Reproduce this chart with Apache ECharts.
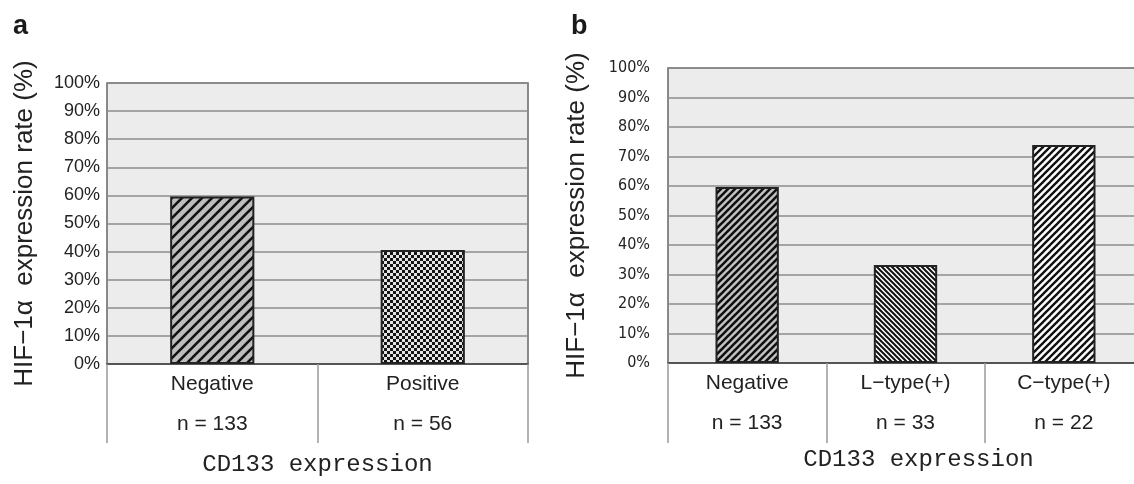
<!DOCTYPE html>
<html><head><meta charset="utf-8">
<script src="https://cdn.jsdelivr.net/npm/echarts@6/dist/echarts.min.js"></script>
<style>html,body{margin:0;padding:0;background:#fff;}#c{width:1134px;height:484px;}</style>
</head><body><div id="c"></div>
<script>
// ---- data ----
const categoriesA = ['Negative', 'Positive'];
const countsA = [133, 56];
const valuesA = [59.6, 40.6];
const categoriesB = ['Negative', 'L−type(+)', 'C−type(+)'];
const countsB = [133, 33, 22];
const valuesB = [59.7, 33.2, 73.9];
const yTickValues = [0, 10, 20, 30, 40, 50, 60, 70, 80, 90, 100];
const yTitle = 'HIF−1α  expression rate (%)';
const xTitle = 'CD133 expression';
const panelLabels = ['a', 'b'];

// ---- patterns ----
function hatch(p, w, bg, dir) {
  const c = document.createElement('canvas');
  c.width = p; c.height = p;
  const g = c.getContext('2d');
  g.fillStyle = bg; g.fillRect(0, 0, p, p);
  g.strokeStyle = '#111'; g.lineWidth = w; g.lineCap = 'square';
  for (let k = -1; k <= 1; k++) {
    g.beginPath();
    if (dir === '/') { g.moveTo(k * p, p); g.lineTo(k * p + p, 0); }
    else { g.moveTo(k * p, 0); g.lineTo(k * p + p, p); }
    g.stroke();
  }
  return { image: c, repeat: 'repeat' };
}
function checker(s) {
  const c = document.createElement('canvas');
  c.width = 2 * s; c.height = 2 * s;
  const g = c.getContext('2d');
  g.fillStyle = '#e4e4e4'; g.fillRect(0, 0, 2 * s, 2 * s);
  g.fillStyle = '#151515';
  g.fillRect(0, 0, s, s); g.fillRect(s, s, s, s);
  return { image: c, repeat: 'repeat' };
}
const patA = [hatch(10, 2.6, '#bdbdbd', '/'), checker(3)];
const patB = [hatch(7, 2.6, '#c4c4c4', '/'), hatch(5, 2, '#ffffff', '\\'), hatch(7, 2.4, '#ffffff', '/')];

const yMax = yTickValues[yTickValues.length - 1];
const yInterval = yTickValues[1] - yTickValues[0];

function xAxisFor(idx, cats, counts, tickLen, nameGap, namePad) {
  return {
    gridIndex: idx, type: 'category', data: cats,
    axisLine: { show: true, lineStyle: { color: '#555', width: 2 } },
    axisTick: { show: true, length: tickLen, lineStyle: { color: '#9a9a9a', width: 1.5 } },
    axisLabel: {
      formatter: (v, i) => v + '\nn = ' + counts[i],
      lineHeight: 40, fontSize: 21, color: '#222', margin: 0, interval: 0
    },
    name: xTitle, nameLocation: 'middle', nameGap: nameGap,
    nameTextStyle: { fontFamily: 'Liberation Mono', fontSize: 24, color: '#222', padding: namePad }
  };
}
function yAxisFor(idx, font, fs, margin, nameGap) {
  return {
    gridIndex: idx, type: 'value', min: 0, max: yMax, interval: yInterval,
    axisLine: { show: false }, axisTick: { show: false },
    axisLabel: { formatter: '{value}%', fontFamily: font, fontSize: fs, color: '#222', margin: margin },
    splitLine: { show: true, lineStyle: { color: '#8c8c8c', width: 1.5 } },
    name: yTitle, nameLocation: 'middle', nameRotate: 90, nameGap: nameGap,
    nameTextStyle: { fontSize: 26, color: '#222' }
  };
}

const chart = echarts.init(document.getElementById('c'), null, { renderer: 'canvas' });
chart.setOption({
  animation: false,
  backgroundColor: '#ffffff',
  textStyle: { fontFamily: 'Liberation Sans' },
  title: [
    { text: panelLabels[0], left: 13, top: 13, padding: 0, textStyle: { fontSize: 27, fontWeight: 'bold', color: '#1a1a1a', fontFamily: 'Liberation Sans' } },
    { text: panelLabels[1], left: 571, top: 13, padding: 0, textStyle: { fontSize: 27, fontWeight: 'bold', color: '#1a1a1a', fontFamily: 'Liberation Sans' } }
  ],
  grid: [
    { left: 107, top: 83, width: 421, height: 281, show: true, backgroundColor: '#ececec', borderColor: '#666', borderWidth: 1.5, outerBoundsMode: 'none', containLabel: false },
    { left: 668, top: 68, width: 475, height: 295, show: true, backgroundColor: '#ececec', borderColor: '#666', borderWidth: 1.5, outerBoundsMode: 'none', containLabel: false }
  ],
  xAxis: [
    xAxisFor(0, categoriesA, countsA, 79, 89, [0, 0, 0, 0]),
    xAxisFor(1, categoriesB, countsB, 80, 71, [0, 0, 0, 26])
  ],
  yAxis: [
    yAxisFor(0, 'Liberation Sans', 18, 7, 69),
    yAxisFor(1, "'DejaVu Sans Condensed', 'Liberation Sans'", 16, 18, 78)
  ],
  series: [
    {
      type: 'bar', xAxisIndex: 0, yAxisIndex: 0, barWidth: '40%',
      data: valuesA.map((v, i) => ({ value: v, itemStyle: { color: patA[i] } })),
      itemStyle: { borderColor: '#222', borderWidth: 2 }
    },
    {
      type: 'bar', xAxisIndex: 1, yAxisIndex: 1, barWidth: '40%',
      data: valuesB.map((v, i) => ({ value: v, itemStyle: { color: patB[i] } })),
      itemStyle: { borderColor: '#222', borderWidth: 2 }
    }
  ]
});
</script></body></html>
